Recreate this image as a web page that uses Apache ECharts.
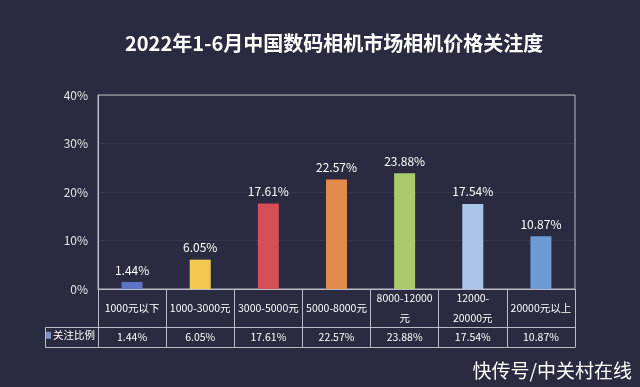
<!DOCTYPE html>
<html>
<head>
<meta charset="utf-8">
<script src="https://cdn.jsdelivr.net/npm/echarts@6/dist/echarts.min.js"></script>
<style>
html,body{margin:0;padding:0;background:#2a2a40;}
#c{width:640px;height:387px;}
</style>
</head>
<body>
<div id="c"></div>
<script>
const titleText = '2022年1-6月中国数码相机市场相机价格关注度';
const categories = ['1000元以下', '1000-3000元', '3000-5000元', '5000-8000元', '8000-12000\n元', '12000-\n20000元', '20000元以上'];
const values = [1.44, 6.05, 17.61, 22.57, 23.88, 17.54, 10.87];
const barColors = ['#5b74c8', '#f2c94e', '#d54f56', '#e28a4b', '#a9cb6b', '#a9c6e9', '#6c9bd6'];
const seriesName = '关注比例';
const yTicks = [0, 10, 20, 30, 40];
const watermark = '快传号/中关村在线';

const lineColor = '#bcbcc8';
const font = '"Noto Sans CJK SC", "Noto Sans", sans-serif';

const chart = echarts.init(document.getElementById('c'), null, {renderer: 'canvas'});
chart.setOption({
  backgroundColor: '#2a2a40',
  animation: false,
  textStyle: {fontFamily: font},
  title: {
    text: titleText,
    left: 120,
    top: 28,
    textStyle: {color: '#ffffff', fontSize: 20, fontWeight: 'bold', fontFamily: font}
  },
  legend: {
    data: [seriesName],
    left: 46,
    top: 330,
    icon: 'rect',
    itemWidth: 5,
    itemHeight: 7,
    itemGap: 2,
    padding: 0,
    textStyle: {color: '#ffffff', fontSize: 10.5, fontFamily: font, padding: [0, 0, 0, -3]}
  },
  grid: {
    left: 98, right: 65, top: 95, bottom: 98,
    show: true, borderColor: lineColor, borderWidth: 1
  },
  xAxis: [
    {
      type: 'category',
      data: categories,
      position: 'bottom',
      axisLine: {show: true, lineStyle: {color: lineColor, width: 1}},
      axisTick: {show: true, length: 58, interval: 0, lineStyle: {color: lineColor, width: 1}},
      axisLabel: {interval: 0, color: '#ffffff', fontSize: 10.5, lineHeight: 20, margin: 19, verticalAlign: 'middle', fontFamily: font}
    },
    {
      type: 'category',
      data: categories,
      position: 'bottom',
      offset: 38,
      axisLine: {show: true, lineStyle: {color: lineColor, width: 1}},
      axisTick: {show: false},
      axisLabel: {
        interval: 0, color: '#ffffff', fontSize: 10.5, margin: 10, verticalAlign: 'middle', fontFamily: font,
        formatter: function (v, i) { return values[i].toFixed(2) + '%'; }
      }
    },
    {
      type: 'category',
      data: categories,
      position: 'bottom',
      offset: 58,
      axisLine: {show: true, lineStyle: {color: lineColor, width: 1}},
      axisTick: {show: false},
      axisLabel: {show: false}
    }
  ],
  yAxis: {
    type: 'value',
    min: yTicks[0],
    max: yTicks[yTicks.length - 1],
    interval: 10,
    axisLine: {show: true, lineStyle: {color: lineColor, width: 1}},
    axisTick: {show: false},
    splitLine: {show: true, lineStyle: {color: 'rgba(255,255,255,0.06)', width: 1}},
    axisLabel: {color: '#e6e6ea', fontSize: 12, margin: 10, formatter: '{value}%', fontFamily: font}
  },
  series: [{
    name: seriesName,
    type: 'bar',
    barWidth: 21,
    itemStyle: {color: '#7f8fc6'},
    data: values.map(function (v, i) { return {value: v, itemStyle: {color: barColors[i]}}; }),
    label: {
      show: true, position: 'top', distance: 6, color: '#ffffff', fontSize: 12, fontFamily: font,
      formatter: function (p) { return p.value.toFixed(2) + '%'; }
    }
  }],
  graphic: [
    {
      type: 'rect',
      left: 45, top: 327,
      shape: {width: 53, height: 20},
      style: {fill: 'transparent', stroke: lineColor, lineWidth: 1}
    },
    {
      type: 'text',
      right: 8, top: 361,
      style: {text: watermark, fill: '#ffffff', fontSize: 19, fontFamily: font}
    }
  ]
});
</script>
</body>
</html>
